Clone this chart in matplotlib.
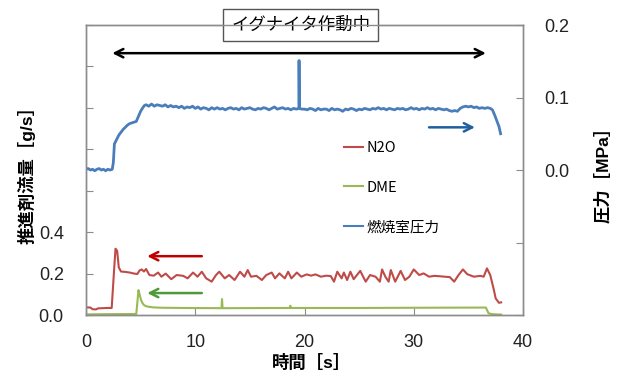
import numpy as np
import matplotlib
matplotlib.use("Agg")
import matplotlib.pyplot as plt
from matplotlib.ticker import FixedLocator, FuncFormatter

plt.rcParams['font.family'] = ['Liberation Sans', 'Noto Sans CJK JP', 'DejaVu Sans']

# ---- data ----
# N2O flow [g/s]
n2o_t = [0, 0.4, 0.6, 0.9, 1.1, 1.5, 2.0, 2.35, 2.55, 2.7, 2.85, 3.0, 3.2, 3.6, 4.0, 4.4, 4.7,
         4.9, 5.1, 5.3, 5.5, 5.8, 6.2, 6.6, 6.9, 7.3, 7.8, 8.3, 8.9, 9.3, 9.8, 10.2, 10.6,
         11.0, 11.5, 11.9, 12.2, 12.7, 13.1, 13.6, 14.1, 14.5, 14.8, 15.1, 15.6, 16.1, 16.5,
         17.0, 17.3, 17.7, 18.2, 18.5, 18.8, 19.3, 19.7, 20.2, 20.6, 21.0, 21.5, 22.0, 22.4,
         22.7, 23.0, 23.4, 23.6, 23.9, 24.2, 24.5, 25.1, 25.6, 26.0, 26.5, 26.9, 27.1, 27.4,
         27.7, 27.9, 28.3, 28.8, 29.2, 29.6, 30.0, 30.5, 30.9, 31.4, 31.9, 32.4, 32.8, 33.3,
         33.7, 34.1, 34.5, 34.9, 35.5, 36.1, 36.4, 36.7, 37.0, 37.3, 37.5, 37.8, 38.0]
n2o_v = [0.037, 0.036, 0.028, 0.027, 0.032, 0.033, 0.034, 0.034, 0.20, 0.32, 0.31, 0.23, 0.21,
         0.208, 0.205, 0.200, 0.198, 0.215, 0.220, 0.210, 0.222, 0.193, 0.190, 0.205, 0.185,
         0.200, 0.173, 0.193, 0.189, 0.177, 0.205, 0.185, 0.209, 0.177, 0.161, 0.193, 0.209,
         0.177, 0.193, 0.169, 0.209, 0.185, 0.217, 0.185, 0.189, 0.169, 0.193, 0.205, 0.177,
         0.201, 0.177, 0.209, 0.177, 0.205, 0.185, 0.196, 0.190, 0.196, 0.185, 0.190, 0.188,
         0.161, 0.209, 0.177, 0.205, 0.169, 0.209, 0.173, 0.213, 0.161, 0.193, 0.185, 0.161,
         0.220, 0.185, 0.161, 0.217, 0.161, 0.213, 0.169, 0.185, 0.220, 0.193, 0.201, 0.185,
         0.189, 0.187, 0.185, 0.183, 0.161, 0.193, 0.220, 0.197, 0.185, 0.189, 0.185, 0.225,
         0.193, 0.129, 0.080, 0.059, 0.061]

# DME flow [g/s]
dme_t = [0, 2, 4.6, 4.7, 4.8, 4.9, 5.05, 5.2, 5.35, 5.6, 6.1, 7.0, 9.0, 12.4, 12.45, 12.5,
         18.65, 18.7, 18.75, 25, 30, 36.6, 36.85, 37.2, 38.0]
dme_v = [0.003, 0.004, 0.005, 0.06, 0.12, 0.10, 0.07, 0.055, 0.046, 0.041, 0.037, 0.035,
         0.034, 0.033, 0.077, 0.033, 0.034, 0.045, 0.034, 0.034, 0.035, 0.036, 0.008, 0.004,
         0.002]

# chamber pressure [MPa]
p_start_t = [0, 0.2, 0.4, 0.6, 0.8, 1.0, 1.2, 1.4, 1.6, 1.8, 2.0, 2.2, 2.4, 2.5, 2.6, 2.8,
             3.0, 3.2, 3.4, 3.6, 3.8, 4.0, 4.2, 4.4, 4.6, 4.8, 5.0, 5.2, 5.35]
p_start_v = [0.001, 0.002, 0.000, 0.001, -0.001, 0.001, 0.002, 0.000, 0.001, -0.001, 0.001,
             0.000, 0.001, 0.010, 0.036, 0.042, 0.048, 0.052, 0.056, 0.059, 0.062, 0.064,
             0.065, 0.066, 0.067, 0.074, 0.081, 0.086, 0.089]
p_mid_v = [0.090, 0.088,
           0.091, 0.088, 0.090, 0.089,
           0.088, 0.090, 0.087, 0.089,
           0.087, 0.088, 0.086, 0.088,
           0.085, 0.087, 0.086, 0.088,
           0.085, 0.087, 0.084, 0.086,
           0.085, 0.083, 0.086, 0.084,
           0.086, 0.084, 0.085, 0.083,
           0.085, 0.086, 0.084, 0.085,
           0.083, 0.086, 0.084, 0.085,
           0.086, 0.084, 0.083, 0.085,
           0.084, 0.086, 0.085, 0.083,
           0.085, 0.087, 0.084, 0.085,
           0.086, 0.084, 0.085, 0.083,
           0.085, 0.084, 0.085, 0.084,
           0.084, 0.083, 0.085, 0.084,
           0.082, 0.085, 0.083, 0.084,
           0.084, 0.082, 0.085, 0.083,
           0.084, 0.083, 0.081, 0.084,
           0.083, 0.085, 0.084, 0.082,
           0.084, 0.083, 0.085, 0.084,
           0.083, 0.085, 0.084, 0.086,
           0.084, 0.085, 0.083, 0.085,
           0.084, 0.083, 0.085, 0.084,
           0.085, 0.083, 0.084, 0.086,
           0.084, 0.085, 0.083, 0.085,
           0.084, 0.086, 0.084, 0.085,
           0.083, 0.085, 0.084, 0.083,
           0.084, 0.082, 0.081, 0.082,
           0.081, 0.085, 0.087, 0.088,
           0.087, 0.088, 0.086, 0.087,
           0.085, 0.086, 0.085, 0.086,
           0.085]
p_spike_t = [19.5, 19.52]
p_spike_v = [0.151, 0.085]
p_end_t = [37.2, 37.4, 37.6, 37.8, 37.95]
p_end_v = [0.083, 0.076, 0.068, 0.060, 0.050]

labels = ["N2O", "DME", "燃焼室圧力"]

# ---- assemble pressure series ----
p_mid_t = np.arange(5.5, 37.01, 0.25)
p_t = np.concatenate([p_start_t, p_mid_t, p_spike_t, p_end_t])
p_v = np.concatenate([p_start_v, p_mid_v, p_spike_v, p_end_v])
order = np.argsort(p_t, kind="stable")
p_t, p_v = p_t[order], p_v[order]

c_red, c_green, c_blue = "#be4b48", "#98b954", "#4a7ebb"
grey = "#8c8c8c"

fig = plt.figure(figsize=(6.21, 3.76), dpi=100)
ax = fig.add_axes([0.1385, 0.1622, 0.7037, 0.7713])
ax2 = ax.twinx()

l1, = ax.plot(n2o_t, n2o_v, color=c_red, lw=1.5, label=labels[0])
l2, = ax.plot(dme_t, dme_v, color=c_green, lw=1.5, label=labels[1])
l3, = ax2.plot(p_t, p_v, color=c_blue, lw=2.0, label=labels[2])

ax.set_xlim(0, 40)
ax.set_ylim(0, 1.4)
ax2.set_ylim(-0.2, 0.2)

ax.xaxis.set_major_locator(FixedLocator([0, 10, 20, 30, 40]))
ax.yaxis.set_major_locator(FixedLocator([0, 0.2, 0.4, 0.6, 0.8, 1.0, 1.2, 1.4]))
ax.yaxis.set_major_formatter(FuncFormatter(lambda v, p: f"{v:.1f}" if v < 0.5 else ""))
ax2.yaxis.set_major_locator(FixedLocator([-0.2, -0.1, 0.0, 0.1, 0.2]))
ax2.yaxis.set_major_formatter(FuncFormatter(lambda v, p: f"{v:.1f}" if v > -0.05 else ""))

for a in (ax, ax2):
    for s in a.spines.values():
        s.set_color(grey)
        s.set_linewidth(1.0)
ax.tick_params(axis="both", direction="in", length=5, color=grey, labelsize=13,
               labelcolor="#222222")
ax.tick_params(axis="x", pad=14)
ax.tick_params(axis="y", pad=16)
ax2.tick_params(axis="y", direction="in", length=5, color=grey, labelsize=13,
                labelcolor="#222222", pad=15)

ax.set_xlabel("時間［s］", fontsize=12.5, fontweight="bold")
ax.xaxis.set_label_coords(0.517, -0.135)
ax.set_ylabel("推進剤流量［g/s］", fontsize=12.5, fontweight="bold")
ax.yaxis.set_label_coords(-0.115, 0.5)
ax2.set_ylabel("圧力［MPa］", fontsize=12.5, fontweight="bold")
ax2.yaxis.set_label_coords(1.165, 0.5)

# title box sitting on the top frame
ax.text(0.491, 1.0, "イグナイタ作動中", transform=ax.transAxes, fontsize=12.5,
        ha="center", va="center",
        bbox=dict(boxstyle="square,pad=0.45", fc="white", ec="#555555", lw=1.0))

# arrows
ax.annotate("", xy=(2.4, 1.264), xytext=(36.6, 1.264),
            arrowprops=dict(arrowstyle="<->,head_length=0.6,head_width=0.3",
                            color="black", lw=1.8, shrinkA=0, shrinkB=0))
ax.annotate("", xy=(5.6, 0.284), xytext=(10.6, 0.284),
            arrowprops=dict(arrowstyle="->,head_length=0.6,head_width=0.3",
                            color="#c00000", lw=1.8, shrinkA=0, shrinkB=0))
ax.annotate("", xy=(5.6, 0.106), xytext=(10.6, 0.106),
            arrowprops=dict(arrowstyle="->,head_length=0.6,head_width=0.3",
                            color="#4e9a3a", lw=1.8, shrinkA=0, shrinkB=0))
ax.annotate("", xy=(35.6, 0.906), xytext=(31.4, 0.906),
            arrowprops=dict(arrowstyle="->,head_length=0.6,head_width=0.3",
                            color="#1f5fa0", lw=1.8, shrinkA=0, shrinkB=0))

leg = ax2.legend([l1, l2, l3], labels, loc="upper left", bbox_to_anchor=(0.56, 0.645),
                 frameon=False, prop={"family": ["Noto Sans CJK JP"], "size": 10.5},
                 handlelength=1.3, handletextpad=0.25, labelspacing=1.75)
for h in leg.legend_handles:
    h.set_linewidth(1.5)

fig.savefig("out.png", dpi=100, facecolor="white")
